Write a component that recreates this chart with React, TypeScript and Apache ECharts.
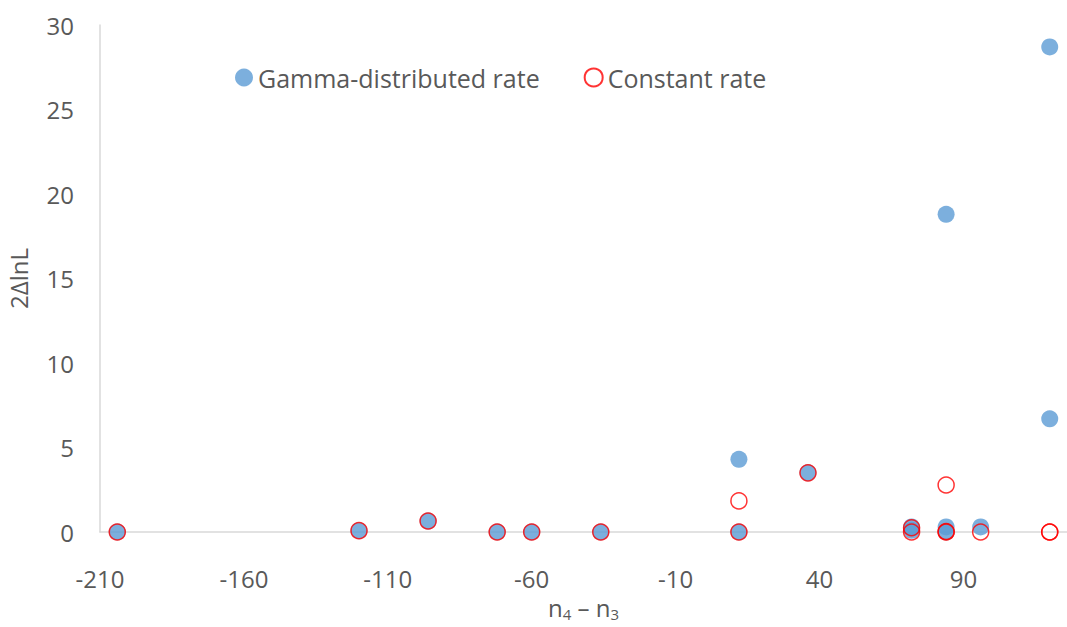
import React, { useEffect, useRef } from "react";
import * as echarts from "echarts";

const gammaX = [-204, -120, -96, -72, -60, -36, 12, 12, 36, 72, 72, 84, 84, 84, 96, 120, 120];
const gammaY = [0, 0.08, 0.65, 0, 0, 0, 4.3, 0, 3.5, 0.3, 0.1, 18.8, 0.3, 0, 0.3, 28.7, 6.7];
const constX = [-204, -120, -96, -72, -60, -36, 12, 12, 36, 72, 72, 84, 84, 84, 96, 120, 120];
const constY = [0, 0.08, 0.65, 0, 0, 0, 1.84, 0, 3.5, 0.25, 0, 2.78, 0.03, 0, 0, 0, 0];

const FONT = "Open Sans";
const GREY = "#595959";

export default function App() {
  const ref = useRef<HTMLDivElement>(null);
  useEffect(() => {
    document.body.style.margin = "0";
    const chart = echarts.init(ref.current!, null, { renderer: "svg" });
    chart.setOption({
      animation: false,
      backgroundColor: "#ffffff",
      textStyle: { fontFamily: FONT },
      grid: {
        left: 100,
        right: 0,
        top: 25,
        bottom: 95,
        containLabel: false,
        outerBoundsMode: "none",
      },
      legend: {
        left: 230,
        top: 60,
        itemWidth: 18,
        itemHeight: 18,
        itemGap: 44,
        textStyle: { fontSize: 25, color: GREY, fontFamily: FONT },
        data: [
          { name: "Gamma-distributed rate", icon: "circle" },
          { name: "Constant rate", icon: "circle" },
        ],
      },
      xAxis: {
        type: "value",
        min: -210,
        max: 126,
        interval: 50,
        splitLine: { show: false },
        axisTick: { show: false },
        axisLine: { show: true, onZero: false, lineStyle: { color: "#D9D9D9", width: 1.5 } },
        axisLabel: {
          fontSize: 24,
          color: GREY,
          margin: 34,
          showMaxLabel: false,
          fontFamily: FONT,
        },
        name: "{n|n}{s|4}{n| – n}{s|3}",
        nameLocation: "middle",
        nameGap: 62,
        nameTextStyle: {
          rich: {
            n: { fontSize: 24, color: GREY, fontFamily: FONT },
            s: { fontSize: 15, color: GREY, fontFamily: FONT, padding: [12, 0, 0, 0] },
          },
        },
      },
      yAxis: {
        type: "value",
        min: 0,
        max: 30,
        interval: 5,
        splitLine: { show: false },
        axisTick: { show: false },
        axisLine: { show: true, onZero: false, lineStyle: { color: "#D9D9D9", width: 1.5 } },
        axisLabel: { fontSize: 24, color: GREY, margin: 26, fontFamily: FONT },
        name: "2ΔlnL",
        nameLocation: "middle",
        nameGap: 70,
        nameRotate: 90,
        nameTextStyle: { fontSize: 24, color: GREY, fontFamily: FONT },
      },
      series: [
        {
          name: "Gamma-distributed rate",
          type: "scatter",
          symbol: "circle",
          symbolSize: 17,
          itemStyle: { color: "#5B9BD5" },
          data: gammaX.map((x, i) => [x, gammaY[i]]),
          z: 2,
        },
        {
          name: "Constant rate",
          type: "scatter",
          symbol: "circle",
          symbolSize: 16,
          itemStyle: { color: "rgba(255,255,255,0)", borderColor: "#FF0000", borderWidth: 1.5 },
          data: constX.map((x, i) => [x, constY[i]]),
          z: 3,
        },
      ],
    });
    return () => chart.dispose();
  }, []);
  return <div ref={ref} style={{ width: 1067, height: 627 }} />;
}
